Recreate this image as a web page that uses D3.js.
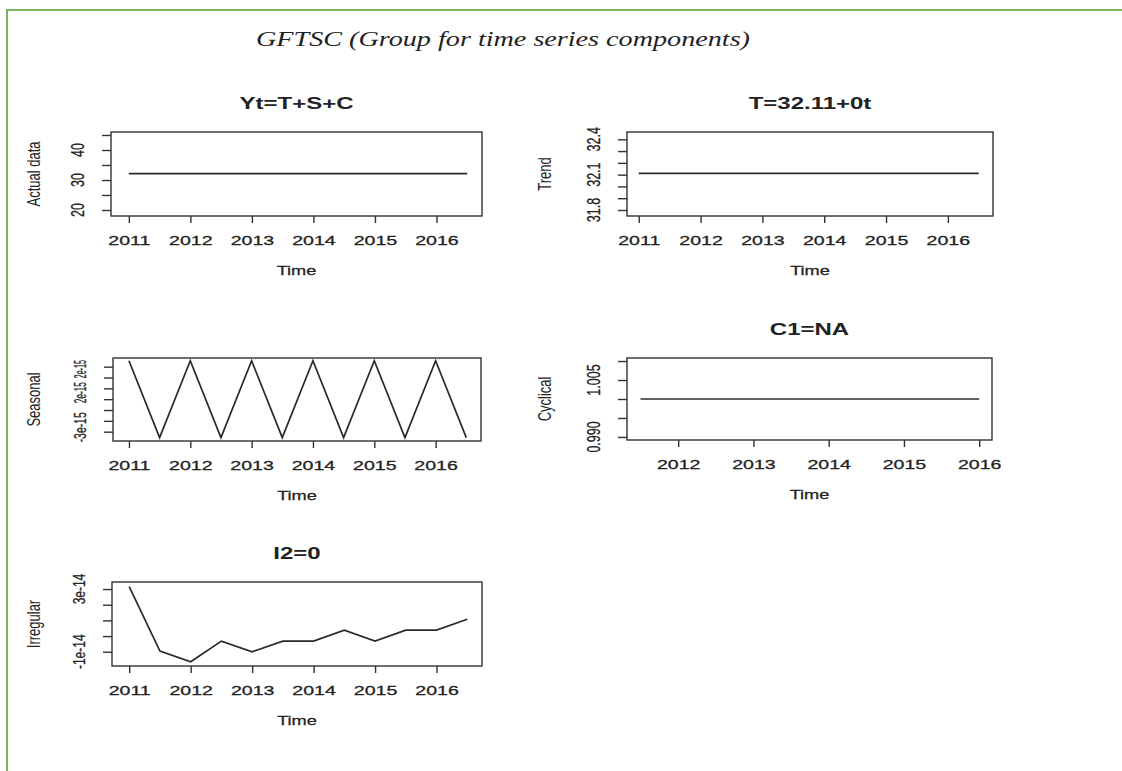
<!DOCTYPE html>
<html>
<head>
<meta charset="utf-8">
<script src="https://cdn.jsdelivr.net/npm/d3@7"></script>
<style>
  body { margin: 0; background: #fff; }
  svg { display: block; }
</style>
</head>
<body>
<svg id="chart" width="1122" height="771"></svg>
<script>
// ---- data ----
var halfYears = [2011, 2011.5, 2012, 2012.5, 2013, 2013.5, 2014, 2014.5, 2015, 2015.5, 2016, 2016.5];
var cycYears = [2011.5, 2012, 2012.5, 2013, 2013.5, 2014, 2014.5, 2015, 2015.5, 2016];

var actualData = [32.11, 32.11, 32.11, 32.11, 32.11, 32.11, 32.11, 32.11, 32.11, 32.11, 32.11, 32.11];
var trendData = [32.11, 32.11, 32.11, 32.11, 32.11, 32.11, 32.11, 32.11, 32.11, 32.11, 32.11, 32.11];
var seasonalData = [3.55e-15, -3.55e-15, 3.55e-15, -3.55e-15, 3.55e-15, -3.55e-15,
                    3.55e-15, -3.55e-15, 3.55e-15, -3.55e-15, 3.55e-15, -3.55e-15];
var cyclicalData = [1, 1, 1, 1, 1, 1, 1, 1, 1, 1];
var irregularData = [3.15e-14, -0.96e-14, -1.64e-14, -0.32e-14, -1.0e-14, -0.32e-14,
                     -0.32e-14, 0.38e-14, -0.32e-14, 0.38e-14, 0.38e-14, 1.07e-14];

var yearTicks = [2011, 2012, 2013, 2014, 2015, 2016];
var cycYearTicks = [2012, 2013, 2014, 2015, 2016];

var actualTicks = [20, 25, 30, 35, 40, 45];
var actualLabels = [[20, "20"], [30, "30"], [40, "40"]];
var trendTicks = [31.8, 31.9, 32.0, 32.1, 32.2, 32.3, 32.4];
var trendLabels = [[31.8, "31.8"], [32.1, "32.1"], [32.4, "32.4"]];
var seasonalTicks = [-3e-15, -2e-15, -1e-15, 0, 1e-15, 2e-15, 3e-15];
var seasonalLabels = [[-2.6e-15, "-3e-15"], [0.6e-15, "2e-15"], [2.77e-15, "2e-15"]];
var cyclicalTicks = [0.990, 0.995, 1.000, 1.005, 1.010];
var cyclicalLabels = [[0.990, "0.990"], [1.005, "1.005"]];
var irregularTicks = [-1e-14, 0, 1e-14, 2e-14, 3e-14];
var irregularLabels = [[-1e-14, "-1e-14"], [3e-14, "3e-14"]];

var panelTitles = ["Yt=T+S+C", "T=32.11+0t", "", "C1=NA", "I2=0"];
var panelYLabels = ["Actual data", "Trend", "Seasonal", "Cyclical", "Irregular"];
var mainTitle = "GFTSC (Group for time series components)";

// ---- layout ----
var stretch = 1.4;   // the picture is widened horizontally
var sansFont = "'Liberation Sans', Arial, sans-serif";

var panels = [
  { box: [111, 482, 132, 216], xDom: [2010.71, 2016.74], yDom: [18, 46], labSize: 12.5,
    t: halfYears, v: actualData, xTicks: yearTicks, yTicks: actualTicks, yLab: actualLabels },
  { box: [627, 993, 132, 216], xDom: [2010.81, 2016.73], yDom: [31.749, 32.462], labSize: 12.5,
    t: halfYears, v: trendData, xTicks: yearTicks, yTicks: trendTicks, yLab: trendLabels },
  { box: [113, 481, 358, 441], xDom: [2010.74, 2016.74], yDom: [-3.86e-15, 3.80e-15], labSize: 12,
    labLen: [30, 21, 18],
    t: halfYears, v: seasonalData, xTicks: yearTicks, yTicks: seasonalTicks, yLab: seasonalLabels },
  { box: [627, 992, 358, 440], xDom: [2011.32, 2016.17], yDom: [0.9892, 1.0108], labSize: 12.5,
    t: cycYears, v: cyclicalData, xTicks: cycYearTicks, yTicks: cyclicalTicks, yLab: cyclicalLabels },
  { box: [112, 482, 582, 666], xDom: [2010.72, 2016.74], yDom: [-1.91e-14, 3.45e-14], labSize: 12,
    t: halfYears, v: irregularData, xTicks: yearTicks, yTicks: irregularTicks, yLab: irregularLabels }
];

let svg = d3.select("#chart");

// green frame
svg.append("line").attr("x1", 6).attr("x2", 1122).attr("y1", 10).attr("y2", 10)
  .style("stroke", "#7ab55c").style("stroke-width", 2);
svg.append("line").attr("x1", 7).attr("x2", 7).attr("y1", 9).attr("y2", 771)
  .style("stroke", "#7ab55c").style("stroke-width", 2);

svg.append("text")
  .attr("x", 256)
  .attr("y", 46)
  .attr("textLength", 494)
  .attr("lengthAdjust", "spacingAndGlyphs")
  .style("font-family", "'Liberation Serif', 'DejaVu Serif', serif")
  .style("font-style", "italic")
  .style("font-size", "22px")
  .style("fill", "#222")
  .text(mainTitle);

panels.forEach(function (p, i) {
  let x0 = p.box[0], x1 = p.box[1], y0 = p.box[2], y1 = p.box[3];
  let cx = (x0 + x1) / 2, cy = (y0 + y1) / 2;

  let x = d3.scaleLinear().domain(p.xDom).range([x0, x1]);
  let y = d3.scaleLinear().domain(p.yDom).range([y1, y0]);

  let data = p.t.map(function (d, k) { return { t: d, v: p.v[k] }; });

  let line = d3.line()
    .x(function (d) { return x(d.t); })
    .y(function (d) { return y(d.v); });

  svg.append("path")
    .datum(data)
    .attr("d", line)
    .style("fill", "none")
    .style("stroke", "#2a2a2a")
    .style("stroke-width", 1.7);

  let xAxis = d3.axisBottom(x)
    .tickValues(p.xTicks)
    .tickSize(7)
    .tickSizeOuter(0)
    .tickFormat(d3.format("d"));

  let gx = svg.append("g")
    .attr("transform", "translate(0," + y1 + ")")
    .style("color", "#333")
    .call(xAxis);
  gx.select(".domain").remove();
  gx.selectAll("line").style("stroke-width", 1.4);
  gx.selectAll("text")
    .attr("y", null)
    .attr("dy", "0.35em")
    .attr("transform", "translate(0,24) scale(1.45,1)")
    .style("font-family", sansFont)
    .style("font-size", "13.5px")
    .style("fill", "#222")
    .style("stroke", "#222")
    .style("stroke-width", 0.3);

  let yAxis = d3.axisLeft(y)
    .tickValues(p.yTicks)
    .tickSize(9)
    .tickSizeOuter(0)
    .tickFormat("");

  let gy = svg.append("g")
    .attr("transform", "translate(" + x0 + ",0)")
    .style("color", "#333")
    .call(yAxis);
  gy.select(".domain").remove();
  gy.selectAll("line").style("stroke-width", 1.4);

  // tick labels (R drops the ones that would overlap)
  let labs = svg.append("g")
    .selectAll("text")
    .data(p.yLab)
    .join("text")
    .attr("text-anchor", "middle")
    .attr("dy", "0.35em")
    .attr("transform", function (d) {
      return "translate(" + (x0 - 33) + "," + y(d[0]) + ") scale(" + stretch + ",1) rotate(-90)";
    })
    .style("font-family", sansFont)
    .style("font-size", p.labSize + "px")
    .style("fill", "#222")
    .style("stroke", "#222")
    .style("stroke-width", 0.2)
    .text(function (d) { return d[1]; });
  if (p.labLen) {
    labs.attr("textLength", function (d, k) { return p.labLen[k]; })
      .attr("lengthAdjust", "spacingAndGlyphs");
  }

  // frame
  svg.append("rect")
    .attr("x", x0).attr("y", y0)
    .attr("width", x1 - x0).attr("height", y1 - y0)
    .style("fill", "none")
    .style("stroke", "#333")
    .style("stroke-width", 1.4);

  if (panelTitles[i]) {
    svg.append("text")
      .attr("text-anchor", "middle")
      .attr("dy", "0.35em")
      .attr("transform", "translate(" + cx + "," + (y0 - 29) + ") scale(1.5,1)")
      .style("font-family", sansFont)
      .style("font-weight", "bold")
      .style("font-size", "16px")
      .style("fill", "#222")
      .text(panelTitles[i]);
  }

  svg.append("text")
    .attr("text-anchor", "middle")
    .attr("dy", "0.35em")
    .attr("transform", "translate(" + cx + "," + (y1 + 54) + ") scale(" + stretch + ",1)")
    .style("font-family", sansFont)
    .style("font-size", "13px")
    .style("fill", "#222")
    .style("stroke", "#222")
    .style("stroke-width", 0.25)
    .text("Time");

  let labelX = x0 < 300 ? 34 : 545;
  svg.append("text")
    .attr("text-anchor", "middle")
    .attr("dy", "0.35em")
    .attr("transform", "translate(" + labelX + "," + cy + ") scale(" + stretch + ",1) rotate(-90)")
    .style("font-family", sansFont)
    .style("font-size", "13px")
    .style("fill", "#222")
    .text(panelYLabels[i]);
});
</script>
</body>
</html>
